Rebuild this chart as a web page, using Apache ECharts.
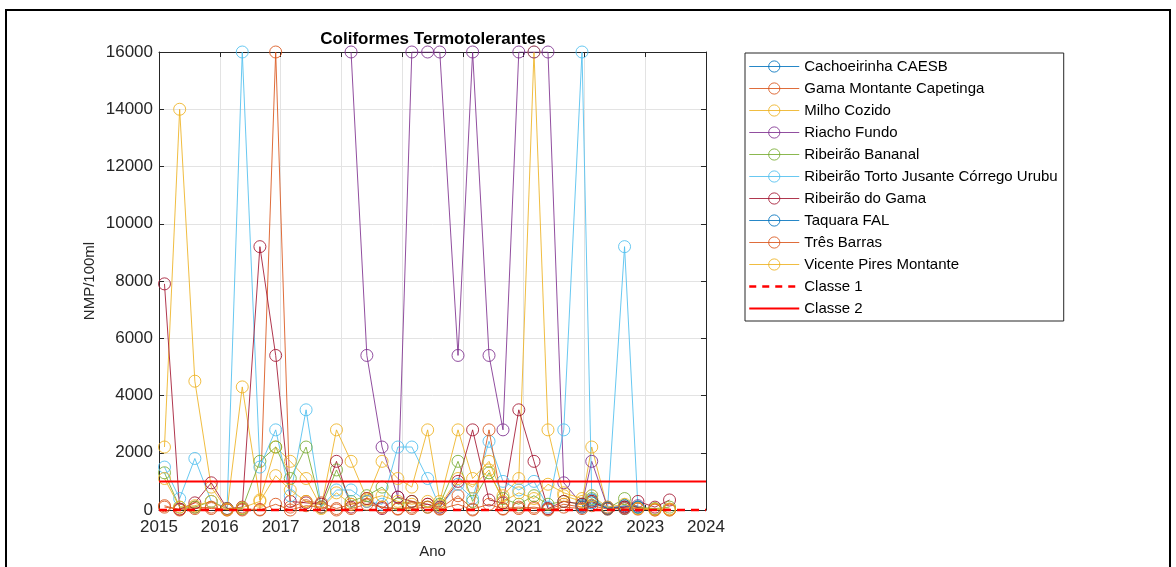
<!DOCTYPE html>
<html><head><meta charset="utf-8">
<script src="https://cdn.jsdelivr.net/npm/echarts@6/dist/echarts.min.js"></script>
<style>html,body{margin:0;padding:0;background:#fff}#c{width:1176px;height:567px}</style>
</head><body><div id="c"></div>
<script>
// Sample dates (decimal years), quarterly campaigns
const sampleYears = [2015.09, 2015.34, 2015.59, 2015.86, 2016.12, 2016.37, 2016.66, 2016.92,
  2017.16, 2017.42, 2017.67, 2017.92, 2018.16, 2018.42, 2018.67, 2018.93,
  2019.16, 2019.42, 2019.62, 2019.92, 2020.16, 2020.43, 2020.66, 2020.92,
  2021.17, 2021.40, 2021.66, 2021.96, 2022.12, 2022.38, 2022.66, 2022.88,
  2023.16, 2023.40];

const stationNames = ['Cachoeirinha CAESB', 'Gama Montante Capetinga', 'Milho Cozido', 'Riacho Fundo',
  'Ribeirão Bananal', 'Ribeirão Torto Jusante Córrego Urubu', 'Ribeirão do Gama', 'Taquara FAL',
  'Três Barras', 'Vicente Pires Montante'];

const cachoeirinha = [null, null, null, null, null, null, null, null, null, null, null, null,
  null, null, null, null, null, null, null, null, null, null, null, null,
  null, null, null, 150, 350, 80, 50, null, null, null];
const gamaMontante = [100, 30, 100, 50, 30, 30, 20, 16000, 100, 300, 250, 50,
  200, 300, 100, 50, 100, 200, 50, 500, 30, 200, 30, 50,
  100, 30, 200, 100, 300, 50, 100, 50, 30, 30];
const milhoCozido = [2200, 14000, 4500, 800, 0, 4300, 350, 2200, 1700, 1100, 100, 2800,
  1700, 400, 1700, 1100, 800, 2800, 300, 2800, 1100, 1700, 500, 1100,
  16000, 2800, 500, 300, 2200, 50, 100, 100, 0, 0];
const riachoFundo = [null, null, null, null, null, null, null, null, null, null, null, null,
  16000, 5400, 2200, 450, 16000, 16000, 16000, 5400, 16000, 5400, 2800, 16000,
  16000, 16000, 950, 200, 1700, 100, 100, 150, null, null];
const ribBananal = [1300, 100, 100, 300, 50, 50, 1700, 2200, 1100, 2200, 100, 1400,
  300, 500, 800, 200, 300, 100, 200, 1700, 300, 1300, 400, 200,
  500, 200, 300, 200, 400, 50, 400, 100, 50, 100];
const ribTorto = [1500, 400, 1800, 300, 50, 16000, 1500, 2800, 500, 3500, 100, 700,
  700, 300, 200, 2200, 2200, 1100, 100, 900, 400, 2400, 1000, 700,
  1000, 100, 2800, 16000, 500, 30, 9200, 100, null, null];
const ribGama = [7900, 30, 250, 950, 50, 100, 9200, 5400, 300, 250, 200, 1700,
  100, 400, 50, 450, 300, 200, 100, 1000, 2800, 350, 250, 3500,
  1700, 50, 300, 200, 300, 50, 100, 300, 100, 350];
const taquara = [null, null, null, null, null, null, null, null, null, null, null, null,
  null, null, null, null, null, null, null, null, null, null, null, null,
  null, null, null, 100, 250, 50, 150, 100, null, null];
const tresBarras = [150, 0, 50, 100, 0, 0, 0, 200, 0, 150, 100, 0,
  50, 200, 100, 30, 50, 100, 30, 200, 0, 2800, 50, 100,
  50, 0, 100, 50, 150, 30, 50, 30, 0, 0];
const vicentePires = [1100, 100, 150, 300, 30, 80, 300, 1200, 700, 300, 50, 600,
  200, 350, 500, 300, 200, 300, 150, 1100, 800, 1400, 300, 600,
  400, 900, 600, 400, 500, 100, 200, 50, 30, 30];

const stationValues = [cachoeirinha, gamaMontante, milhoCozido, riachoFundo, ribBananal,
  ribTorto, ribGama, taquara, tresBarras, vicentePires];
const stationColors = ['#0072BD', '#D95319', '#EDB120', '#7E2F8E', '#77AC30',
  '#4DBEEE', '#A2142F', '#0072BD', '#D95319', '#EDB120'];

const classNames = ['Classe 1', 'Classe 2'];
const classLimits = [0, 1000];
const xRange = [2015, 2024];
const yRange = [0, 16000];

const FONT = "'Liberation Sans', Arial, sans-serif";
const TXT = '#262626';

const series = stationNames.map((name, i) => ({
  name, type: 'line',
  data: sampleYears.map((t, k) => [t, stationValues[i][k]]),
  symbol: 'circle', symbolSize: 12, showAllSymbol: true,
  connectNulls: false,
  itemStyle: { color: 'rgba(255,255,255,0)', borderColor: stationColors[i], borderWidth: 1, opacity: 0.85 },
  lineStyle: { color: stationColors[i], width: 1, opacity: 0.85 },
  emphasis: { disabled: true }
}));
classNames.forEach((name, j) => {
  series.push({
    name, type: 'line', z: 5,
    data: xRange.map(x => [x, classLimits[j]]),
    symbol: 'none', clip: false,
    itemStyle: { color: '#FF0000' },
    lineStyle: { color: '#FF0000', width: j === 0 ? 2.5 : 2, type: j === 0 ? [8, 6] : 'solid' },
    emphasis: { disabled: true }
  });
});

const legendData = stationNames.map((name, i) => ({
  name,
  itemStyle: { color: 'rgba(255,255,255,0)', borderColor: stationColors[i], borderWidth: 1, opacity: 0.85 },
  lineStyle: { color: stationColors[i], width: 1, opacity: 0.85 }
})).concat(classNames.map((name, j) => ({
  name,
  itemStyle: { color: 'rgba(0,0,0,0)', borderColor: 'rgba(0,0,0,0)', borderWidth: 0, opacity: 0 },
  lineStyle: { color: '#FF0000', width: j === 0 ? 2.5 : 2, type: j === 0 ? [7, 6] : 'solid' }
})));

const chart = echarts.init(document.getElementById('c'), null, { renderer: 'canvas' });
chart.setOption({
  animation: false,
  backgroundColor: '#fff',
  textStyle: { fontFamily: FONT },
  title: {
    text: 'Coliformes Termotolerantes', left: 433, top: 31, textAlign: 'center', padding: 0,
    textStyle: { fontSize: 17, fontWeight: 'bold', color: '#000', fontFamily: FONT }
  },
  grid: { left: 159, right: 470, top: 52, bottom: 57 },
  xAxis: [{
    type: 'value', min: xRange[0], max: xRange[1], interval: 1,
    name: 'Ano', nameLocation: 'middle', nameGap: 34,
    nameTextStyle: { fontSize: 15, color: TXT, fontFamily: FONT },
    axisLine: { show: true, onZero: false, lineStyle: { color: TXT, width: 1 } },
    axisTick: { show: true, inside: true, length: 5, lineStyle: { color: TXT } },
    axisLabel: { fontSize: 17, color: TXT, margin: 9, fontFamily: FONT, formatter: v => String(v) },
    splitLine: { show: true, lineStyle: { color: '#e3e3e3', width: 1 } }
  }, {
    type: 'value', position: 'top', min: xRange[0], max: xRange[1], interval: 1,
    axisLine: { show: true, onZero: false, lineStyle: { color: TXT, width: 1 } },
    axisTick: { show: true, inside: true, length: 5, lineStyle: { color: TXT } },
    axisLabel: { show: false }, splitLine: { show: false }
  }],
  yAxis: [{
    type: 'value', min: yRange[0], max: yRange[1], interval: 2000,
    name: 'NMP/100ml', nameLocation: 'middle', nameGap: 62,
    nameTextStyle: { fontSize: 15, color: TXT, fontFamily: FONT },
    axisLine: { show: true, onZero: false, lineStyle: { color: TXT, width: 1 } },
    axisTick: { show: true, inside: true, length: 5, lineStyle: { color: TXT } },
    axisLabel: { fontSize: 17, color: TXT, margin: 6, fontFamily: FONT, formatter: v => String(v) },
    splitLine: { show: true, lineStyle: { color: '#e3e3e3', width: 1 } }
  }, {
    type: 'value', position: 'right', min: yRange[0], max: yRange[1], interval: 2000,
    axisLine: { show: true, onZero: false, lineStyle: { color: TXT, width: 1 } },
    axisTick: { show: true, inside: true, length: 5, lineStyle: { color: TXT } },
    axisLabel: { show: false }, splitLine: { show: false }
  }],
  legend: {
    orient: 'vertical', left: 745, top: 53, padding: [6, 6, 5, 3],
    itemGap: 7, itemWidth: 50, itemHeight: 14,
    backgroundColor: '#fff', borderColor: TXT, borderWidth: 1, borderRadius: 0,
    textStyle: { fontSize: 15, color: '#000', fontFamily: FONT, lineHeight: 14 },
    data: legendData,
    selectedMode: false
  },
  graphic: [{
    type: 'rect', shape: { x: 6, y: 10, width: 1164, height: 570 },
    style: { fill: 'none', stroke: '#000', lineWidth: 2 }, silent: true, z: 100
  }],
  series
});
</script>
</body></html>
